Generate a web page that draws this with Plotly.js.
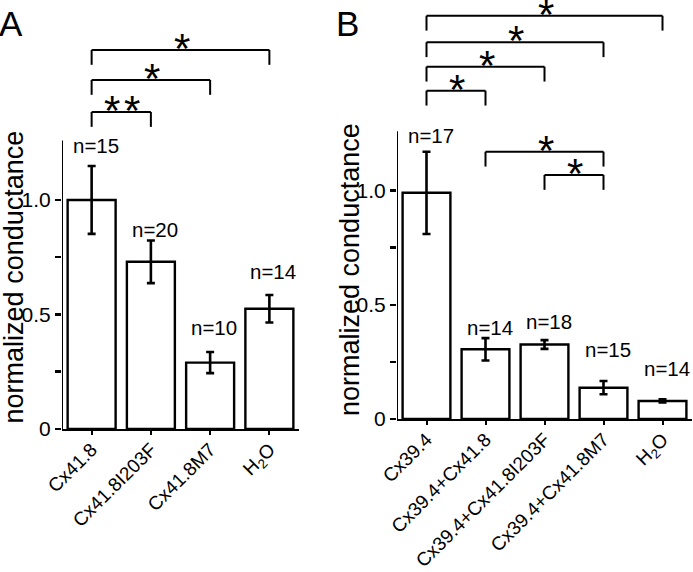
<!DOCTYPE html>
<html>
<head>
<meta charset="utf-8">
<script src="https://cdn.plot.ly/plotly-3.0.1.min.js"></script>
<style>html,body{margin:0;padding:0;background:#fff}#chart{width:693px;height:572px}</style>
</head>
<body>
<div id="chart"></div>
<script>
// ---------- data ----------
const catsA = ['Cx41.8', 'Cx41.8I203F', 'Cx41.8M7', 'H<sub>2</sub>O'];
const meanA = [1.0, 0.73, 0.29, 0.525];
const semA  = [0.148, 0.093, 0.046, 0.06];
const nA    = [15, 20, 10, 14];
const pairsA = [[0, 1], [0, 2], [0, 3]];
const starsA = [2, 1, 1];   // number of asterisks per comparison

const catsB = ['Cx39.4', 'Cx39.4+Cx41.8', 'Cx39.4+Cx41.8I203F', 'Cx39.4+Cx41.8M7', 'H<sub>2</sub>O'];
const meanB = [0.99, 0.305, 0.326, 0.137, 0.079];
const semB  = [0.18, 0.049, 0.019, 0.029, 0.007];
const nB    = [17, 14, 18, 15, 14];
const pairsB = [[0, 1], [0, 2], [0, 3], [0, 4], [1, 3], [2, 3]];
const starsB = [1, 1, 1, 1, 1, 1];

const yTickVals = [0, 0.25, 0.5, 0.75, 1.0];
const yTickText = ['0', '', '0.5', '', '1.0'];

// ---------- layout helpers (positions, not data) ----------
const bracketYA = [1.384, 1.524, 1.655];
const bracketYB = [1.437, 1.542, 1.649, 1.765, 1.170, 1.068];
const legLen = 0.065;
const nLabelYA = [1.237, 0.873, 0.442, 0.687];
const nLabelYB = [1.243, 0.40, 0.426, 0.306, 0.223];
const axisTop = 1.26;

const FONT = 'Liberation Sans, Arial, Helvetica, sans-serif';
const idx = a => a.map((_, i) => i);

function barTrace(means, sems, xa, ya) {
  return {
    type: 'bar', x: idx(means), y: means, width: 0.81,
    xaxis: xa, yaxis: ya,
    marker: {color: '#ffffff', line: {color: '#000', width: 2.4}},
    error_y: {type: 'data', array: sems, visible: true, color: '#000', thickness: 2.6, width: 4},
    hoverinfo: 'skip', showlegend: false
  };
}

const shapes = [];
const annotations = [];

function addBrackets(pairs, stars, levels, xr, yr) {
  pairs.forEach((p, i) => {
    const y = levels[i];
    const ln = {color: '#000', width: 2};
    shapes.push({type: 'line', xref: xr, yref: yr, x0: p[0], x1: p[1], y0: y, y1: y, line: ln});
    shapes.push({type: 'line', xref: xr, yref: yr, x0: p[0], x1: p[0], y0: y, y1: y - legLen, line: ln});
    shapes.push({type: 'line', xref: xr, yref: yr, x0: p[1], x1: p[1], y0: y, y1: y - legLen, line: ln});
    const k = stars[i];
    for (let s = 0; s < k; s++) {
      annotations.push({xref: xr, yref: yr, x: (p[0] + p[1]) / 2, y: y, text: '*',
        xshift: (s - (k - 1) / 2) * 20 + 1,
        showarrow: false, yanchor: 'bottom', yshift: -24,
        font: {family: FONT, size: 42, color: '#000'}});
    }
  });
}
addBrackets(pairsA, starsA, bracketYA, 'x', 'y');
addBrackets(pairsB, starsB, bracketYB, 'x2', 'y2');

function addN(ns, ys, xr, yr) {
  ns.forEach((n, i) => {
    annotations.push({xref: xr, yref: yr, x: i, y: ys[i], text: 'n=' + n, xshift: 4,
      showarrow: false, yanchor: 'middle', font: {family: FONT, size: 20.5, color: '#000'}});
  });
}
addN(nA, nLabelYA, 'x', 'y');
addN(nB, nLabelYB, 'x2', 'y2');

// y-axis lines (shortened)
shapes.push({type: 'line', xref: 'x', yref: 'y', x0: -0.5, x1: -0.5, y0: 0, y1: axisTop, line: {color: '#000', width: 2}});
shapes.push({type: 'line', xref: 'x2', yref: 'y2', x0: -0.5, x1: -0.5, y0: 0, y1: axisTop, line: {color: '#000', width: 2}});

// axis titles & panel letters
annotations.push({xref: 'paper', yref: 'paper', x: 14 / 693, y: 0.515, text: 'normalized conductance',
  textangle: -90, showarrow: false, xanchor: 'center', yanchor: 'middle', font: {family: FONT, size: 27, color: '#000'}});
annotations.push({xref: 'paper', yref: 'paper', x: 350 / 693, y: 0.528, text: 'normalized conductance',
  textangle: -90, showarrow: false, xanchor: 'center', yanchor: 'middle', font: {family: FONT, size: 27, color: '#000'}});
annotations.push({xref: 'paper', yref: 'paper', x: 0, y: 1 - 23 / 572, text: 'A',
  showarrow: false, xanchor: 'left', yanchor: 'middle', xshift: -3, font: {family: FONT, size: 35, color: '#000'}});
annotations.push({xref: 'paper', yref: 'paper', x: 337 / 693, y: 1 - 23 / 572, text: 'B',
  showarrow: false, xanchor: 'left', yanchor: 'middle', xshift: -3, font: {family: FONT, size: 35, color: '#000'}});

function xAxis(cats, dom, yanchor) {
  return {domain: dom, anchor: yanchor, range: [-0.5, cats.length - 0.5], tickvals: idx(cats), ticktext: cats,
    tickangle: -45, ticks: 'outside', ticklen: 4, tickwidth: 2, tickcolor: '#000', ticklabelstandoff: -4,
    showline: true, linecolor: '#000', linewidth: 2, showgrid: false, zeroline: false,
    tickfont: {family: FONT, size: 19, color: '#000'}, fixedrange: true};
}
function yAxis(dom, range, xanchor) {
  return {domain: dom, anchor: xanchor, range: range, tickvals: yTickVals, ticktext: yTickText,
    ticks: 'outside', ticklen: 6, tickwidth: 2.5, tickcolor: '#000', showline: false,
    showgrid: false, zeroline: false, tickfont: {family: FONT, size: 21, color: '#000'}, fixedrange: true};
}

const layout = {
  width: 693, height: 572,
  margin: {l: 0, r: 0, t: 0, b: 0},
  paper_bgcolor: '#fff', plot_bgcolor: '#fff',
  showlegend: false,
  xaxis: xAxis(catsA, [62 / 693, 299 / 693], 'y'),
  yaxis: yAxis([0.25, 1], [0, 1.873], 'x'),
  xaxis2: xAxis(catsB, [397 / 693, 692 / 693], 'y2'),
  yaxis2: yAxis([0.2675, 1], [0, 1.834], 'x2'),
  shapes: shapes,
  annotations: annotations
};

Plotly.newPlot('chart', [barTrace(meanA, semA, 'x', 'y'), barTrace(meanB, semB, 'x2', 'y2')], layout,
  {staticPlot: true, displayModeBar: false});
</script>
</body>
</html>
